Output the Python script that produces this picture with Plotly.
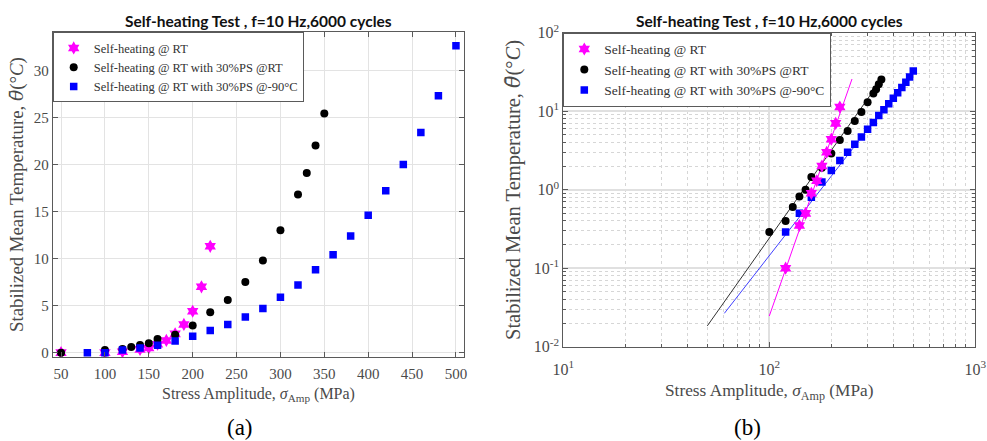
import plotly.graph_objects as go

W, H = 987, 441

# ---------------- data ----------------
rt_x = [50, 100, 120, 140, 150, 160, 170, 180, 190, 200, 210, 220]
rt_y = [0, 0, 0.1, 0.35, 0.5, 0.9, 1.3, 2.0, 3.0, 4.4, 7.0, 11.3]

ps_x = [50, 100, 120, 130, 140, 150, 160, 180, 200, 220, 240, 260, 280, 300, 320, 330, 340, 350]
ps_y = [0, 0.29, 0.4, 0.6, 0.82, 1.0, 1.45, 1.9, 2.9, 4.3, 5.6, 7.5, 9.8, 13.0, 16.8, 19.1, 22.0, 25.4]

cold_x = [80, 100, 120, 140, 160, 180, 200, 220, 240, 260, 280, 300, 320, 340, 360, 380, 400, 420, 440, 460, 480, 500]
cold_y = [0, 0, 0.29, 0.5, 0.8, 1.25, 1.75, 2.35, 3.0, 3.8, 4.7, 5.9, 7.2, 8.8, 10.4, 12.4, 14.6, 17.2, 20.0, 23.4, 27.3, 32.6]

# power-law fit lines (end points) for the log-log panel
fit_rt_x = [100, 252]
fit_rt_y = [0.0246, 25.7]
fit_ps_x = [50, 350]
fit_ps_y = [0.0184, 25.4]
fit_cold_x = [60.5, 500]
fit_cold_y = [0.0266, 32.6]

names = ["Self-heating @ RT", "Self-heating @ RT with 30%PS @RT", "Self-heating @ RT with 30%PS @-90\u00b0C"]

lin_xticks = [50, 100, 150, 200, 250, 300, 350, 400, 450, 500]
lin_yticks = [0, 5, 10, 15, 20, 25, 30]
log_xticks = [10, 100, 1000]
log_xtext = ["10<sup>1</sup>", "10<sup>2</sup>", "10<sup>3</sup>"]
log_yticks = [0.01, 0.1, 1, 10, 100]
log_ytext = ["10<sup>-2</sup>", "10<sup>-1</sup>", "10<sup>0</sup>", "10<sup>1</sup>", "10<sup>2</sup>"]

# ---------------- styles ----------------
MAG, BLK, BLU = "#ff00ff", "#000000", "#0000ff"
SERIF = "Liberation Serif"
TICKC = "#4a4a4a"
AXC = "#5a5a5a"
GRID = "#e3e3e3"

fig = go.Figure()

mk = [
    dict(symbol="hexagram", size=10, color=MAG, line=dict(width=0)),
    dict(symbol="circle", size=8, color=BLK, line=dict(width=0)),
    dict(symbol="square", size=7.5, color=BLU, line=dict(width=0)),
]

data = [(rt_x, rt_y), (ps_x, ps_y), (cold_x, cold_y)]

# Left panel (linear)
for i, (xs, ys) in enumerate(data):
    fig.add_trace(go.Scatter(x=xs, y=ys, mode="markers", marker=mk[i], name=names[i],
                             xaxis="x", yaxis="y", legend="legend"))

# Right panel (log-log): fit lines first, then markers
for fx, fy, c in [(fit_ps_x, fit_ps_y, "#333333"), (fit_cold_x, fit_cold_y, "#4040ff"), (fit_rt_x, fit_rt_y, MAG)]:
    fig.add_trace(go.Scatter(x=fx, y=fy, mode="lines", line=dict(color=c, width=1),
                             showlegend=False, xaxis="x2", yaxis="y2", hoverinfo="skip"))
for i in [1, 2, 0]:
    xs, ys = data[i]
    fig.add_trace(go.Scatter(x=xs, y=ys, mode="markers", marker=mk[i], name=names[i],
                             xaxis="x2", yaxis="y2", legend="legend2", legendrank=i + 1))

tickfont = dict(family=SERIF, size=15, color=TICKC)
logtickfont = dict(family=SERIF, size=16, color=TICKC)

def lin_axis(domain, rng, ticks, anchor, standoff):
    return dict(domain=domain, range=rng, tickvals=ticks, ticks="inside", ticklen=5,
                tickcolor=AXC, showline=True, linecolor=AXC, linewidth=1, mirror="allticks",
                showgrid=True, gridcolor=GRID, gridwidth=1, zeroline=False, automargin=False,
                tickfont=tickfont, anchor=anchor, ticklabelstandoff=standoff)

L_X = [52.7 / W, 464.3 / W]
L_Y = [1 - 357 / H, 1 - 32.3 / H]
R_X = [563.3 / W, 975.3 / W]
R_Y = [1 - 346.7 / H, 1 - 32.7 / H]

xa = lin_axis(L_X, [40.5, 509.5], lin_xticks, "y", 3)
ya = lin_axis(L_Y, [-0.46, 34.04], lin_yticks, "x", 0)

minor = dict(ticks="inside", ticklen=3, tickcolor=AXC, showgrid=True, gridcolor="#d6d6d6",
             griddash="dot", gridwidth=1, dtick="D1")

def log_axis(domain, rng, vals, text, anchor, standoff):
    return dict(domain=domain, type="log", range=rng, tickvals=vals, ticktext=text,
                ticks="inside", ticklen=5, tickcolor=AXC, showline=True, linecolor=AXC, linewidth=1,
                mirror="allticks", showgrid=True, gridcolor="#e0e0e0", gridwidth=1.5, zeroline=False,
                automargin=False, tickfont=logtickfont, anchor=anchor, minor=minor,
                ticklabelstandoff=standoff)

xa2 = log_axis(R_X, [1, 3], log_xticks, log_xtext, "y2", 8)
ya2 = log_axis(R_Y, [-2, 2], log_yticks, log_ytext, "x2", 0)

fig.update_layout(
    width=W, height=H, margin=dict(l=0, r=0, t=0, b=0, autoexpand=False),
    paper_bgcolor="white", plot_bgcolor="white",
    xaxis=xa, yaxis=ya, xaxis2=xa2, yaxis2=ya2,
    legend=dict(x=L_X[0], y=L_Y[1], xanchor="left", yanchor="top", bgcolor="white",
                bordercolor=AXC, borderwidth=1,
                font=dict(family=SERIF, size=12.5, color="#333333"), tracegroupgap=0),
    legend2=dict(x=R_X[0], y=R_Y[1], xanchor="left", yanchor="top", bgcolor="white",
                 bordercolor=AXC, borderwidth=1,
                 font=dict(family=SERIF, size=13.5, color="#333333"), tracegroupgap=0),
    showlegend=True,
)

title_txt = "<b>Self-heating Test , f=10 Hz,6000 cycles</b>"
ylab = ("Stabilized Mean Temperature, "
        "<span style='font-family:DejaVu Serif;font-style:italic'>\u03b8\u0304</span>(\u00b0<i>C</i>)")
xlab = "Stress Amplitude, <i>\u03c3</i><sub>Amp</sub> (MPa)"
tfont = dict(family="Lato", size=15.5, color="#111")

ann = [
    dict(x=258.5 / W, y=1 - 21.3 / H, text=title_txt, font=tfont),
    dict(x=769.3 / W, y=1 - 21.3 / H, text=title_txt, font=tfont),
    dict(x=17 / W, y=1 - 195 / H, text=ylab, textangle=-90,
         font=dict(family=SERIF, size=18.8, color="#4a4a4a")),
    dict(x=513 / W, y=1 - 190 / H, text=ylab, textangle=-90,
         font=dict(family=SERIF, size=20.5, color="#4a4a4a")),
    dict(x=258 / W, y=1 - 394 / H, text=xlab, font=dict(family=SERIF, size=16, color="#4a4a4a")),
    dict(x=769 / W, y=1 - 392 / H, text=xlab, font=dict(family=SERIF, size=17.3, color="#4a4a4a")),
    dict(x=240 / W, y=1 - 427 / H, text="(a)", font=dict(family=SERIF, size=23, color="#000")),
    dict(x=747 / W, y=1 - 427 / H, text="(b)", font=dict(family=SERIF, size=23, color="#000")),
]
for a in ann:
    a.update(xref="paper", yref="paper", showarrow=False, xanchor="center", yanchor="middle")
fig.update_layout(annotations=ann)

fig.write_html("out.html",
               post_script="document.body.style.margin='0';document.body.style.overflow='hidden';")
